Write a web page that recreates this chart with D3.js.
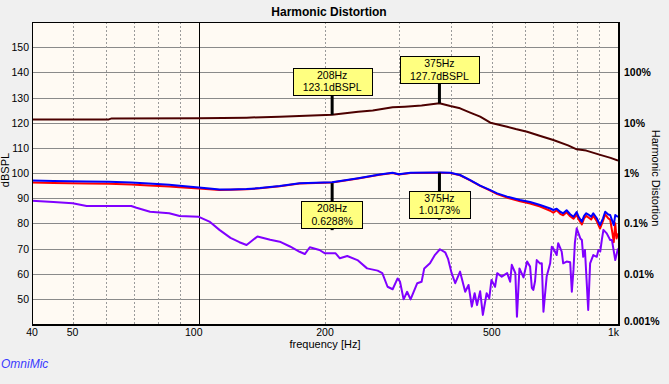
<!DOCTYPE html>
<html>
<head>
<meta charset="utf-8">
<script src="https://cdn.jsdelivr.net/npm/d3@7"></script>
<style>
    body { margin: 0; background: #f0f0f0; }
    svg { display: block; font-family: Arial, "Liberation Sans", sans-serif; }
</style>
</head>
<body>
<svg id="chart" width="669" height="384"></svg>
<script>
// [frequency Hz, dBSPL]
const fundamental = [
    [40, 121.3], [61, 121.3], [62, 121.7], [100, 121.8], [130, 122.0], [156, 122.4],
    [180, 122.7], [208, 123.1], [240, 124.3], [260, 124.8], [290, 126.1], [310, 126.35],
    [340, 126.8], [375, 127.7], [398, 126.6], [420, 125.7], [444, 124.0], [469, 122.4],
    [496, 120.0], [544, 118.4], [570, 117.5], [607, 116.4], [650, 114.8], [701, 113.1],
    [760, 111.0], [797, 109.4], [840, 108.9], [907, 107.2], [960, 106.0], [1000, 104.9],
]
const h2 = [
    [40, 96.2], [45, 96.0], [54, 95.8], [61, 95.7], [69, 95.4], [76, 95.0], [85, 94.6],
    [90, 94.3], [100, 93.8], [106, 93.5], [112, 93.2], [119, 93.3], [130, 93.5], [140, 93.9],
    [156, 94.7], [174, 95.8], [208, 96.2], [240, 97.8], [270, 99.3], [290, 100.0], [300, 99.4],
    [320, 100.0], [375, 100.05], [398, 100.0], [420, 99.1], [444, 97.1], [469, 94.9], [496, 93.0],
    [515, 91.6], [544, 90.2], [584, 88.8], [617, 87.9], [652, 86.7], [689, 85.0], [701, 84.2],
    [714, 85.2], [728, 83.8], [740, 83.2], [754, 84.4], [769, 82.8], [783, 81.8], [797, 83.5],
    [806, 81.5], [820, 79.6], [830, 82.0], [840, 83.0], [850, 82.3], [863, 81.5], [873, 83.0],
    [890, 80.8], [906, 77.9], [921, 81.0], [932, 83.6], [948, 82.0], [958, 81.5], [970, 76.0],
    [977, 72.5], [985, 80.0], [992, 74.0], [1000, 76.0],
]
const thd = [
    [40, 97.0], [45, 96.8], [54, 96.6], [61, 96.5], [69, 96.2], [76, 95.8], [85, 95.3],
    [90, 94.9], [100, 94.2], [106, 93.8], [112, 93.4], [119, 93.4], [130, 93.6], [140, 94.0],
    [156, 94.8], [174, 95.9], [208, 96.3], [240, 97.9], [270, 99.4], [290, 100.1], [300, 99.5],
    [320, 100.1], [375, 100.15], [398, 100.1], [420, 99.2], [444, 97.2], [469, 95.0], [496, 93.2],
    [515, 91.9], [544, 90.6], [584, 89.3], [617, 88.5], [652, 87.3], [689, 85.9], [701, 85.3],
    [714, 85.8], [728, 84.6], [740, 84.0], [754, 85.2], [769, 83.6], [783, 82.6], [797, 84.5],
    [806, 82.5], [820, 80.7], [830, 83.0], [840, 84.0], [850, 83.5], [863, 82.6], [873, 84.0],
    [890, 82.0], [906, 79.3], [921, 82.0], [932, 84.6], [948, 83.5], [958, 83.3], [977, 79.3],
    [985, 83.3], [1000, 82.5],
]
const h3 = [
    [40, 89.0], [45, 88.5], [50, 88.0], [54, 86.9], [61, 86.9], [69, 86.9], [71, 86.2],
    [76.5, 84.6], [85, 84.0], [90, 82.9], [100, 82.6], [106, 80.7], [112, 77.4], [119, 74.2],
    [125, 72.5], [130, 71.4], [138, 74.8], [148, 73.5], [156, 72.7], [165, 70.8], [174, 68.7],
    [179, 67.8], [184, 70.5], [194, 69.4], [200, 68.1], [212, 68.1], [217, 66.1], [226, 67.0],
    [239, 65.4], [252, 62.1], [267, 61.2], [274, 60.2], [282, 54.8], [290, 53.8], [298, 58.1],
    [302, 56.8], [308, 49.8], [314, 52.8], [320, 49.8], [332, 56.2], [340, 56.8], [345, 62.1],
    [356, 64.1], [366, 67.5], [376, 69.7], [387, 68.5], [393, 66.0], [401, 60.2], [409, 56.2],
    [420, 60.8], [432, 52.8], [440, 55.5], [448, 46.9], [455, 52.2], [461, 47.5], [469, 53.0],
    [476, 43.6], [486, 52.2], [493, 50.2], [499, 57.5], [509, 54.8], [515, 60.2], [528, 58.8],
    [544, 60.2], [553, 56.8], [558, 63.5], [569, 60.2], [574, 42.9], [582, 62.1], [595, 58.5],
    [607, 64.8], [617, 62.8], [623, 54.3], [628, 53.5], [634, 57.0], [640, 65.4], [652, 64.0],
    [658, 64.1], [664, 44.9], [676, 59.0], [689, 64.1], [695, 70.7], [701, 70.0], [714, 67.4],
    [720, 72.1], [734, 68.8], [740, 64.1], [754, 64.8], [769, 64.5], [776, 52.8], [783, 61.5],
    [789, 72.1], [797, 78.0], [813, 74.0], [820, 73.4], [826, 66.7], [834, 69.4], [849, 45.6],
    [858, 64.1], [873, 67.4], [890, 66.7], [898, 69.4], [907, 68.8], [915, 73.4], [923, 77.4],
    [940, 76.0], [958, 73.4], [967, 73.4], [985, 65.4], [1000, 70.0],
]

const freqLabels = [40, 50, 100, 200, 500, 1000]
const pctLabels = [0.001, 0.01, 0.1, 1, 10, 100]

// cursor readouts: dB ones on the fundamental, % ones on THD
const markers = [
    { freq: 208, db: 123.1, text: ["208Hz", "123.1dBSPL"], above: true },
    { freq: 375, db: 127.7, text: ["375Hz", "127.7dBSPL"], above: true },
    { freq: 208, pct: 0.6288, text: ["208Hz", "0.6288%"], above: false },
    { freq: 375, pct: 1.0173, text: ["375Hz", "1.0173%"], above: false },
]

const svg = d3.select("#chart")
const pLeft = 32, pRight = 618, pTop = 22, pBottom = 324

const x = d3.scaleLog().domain([40, 1000]).range([pLeft, pRight])
const y = d3.scaleLinear().domain([40, 160]).range([pBottom, pTop])
const pct = d3.scaleLog().domain([0.001, 1000]).range([pBottom, pTop])

svg.append("rect")
    .attr("x", pLeft).attr("y", pTop)
    .attr("width", pRight - pLeft).attr("height", pBottom - pTop)
    .attr("fill", "#fffaf3")

svg.append("clipPath").attr("id", "plot")
    .append("rect")
    .attr("x", pLeft).attr("y", pTop)
    .attr("width", pRight - pLeft).attr("height", pBottom - pTop)

// grid
const grid = svg.append("g").attr("shape-rendering", "crispEdges")
grid.selectAll(".hg")
    .data(y.ticks(12).filter((d) => d > 40 && d < 160))
    .join("line")
    .attr("x1", pLeft).attr("x2", pRight)
    .attr("y1", (d) => Math.round(y(d)) + 0.5).attr("y2", (d) => Math.round(y(d)) + 0.5)
    .attr("stroke", "#8a8a8a")
grid.selectAll(".vg")
    .data(x.ticks().filter((d) => d > 40 && d < 1000 && d != 100))
    .join("line")
    .attr("x1", (d) => Math.round(x(d)) + 0.5).attr("x2", (d) => Math.round(x(d)) + 0.5)
    .attr("y1", pTop).attr("y2", pBottom)
    .attr("stroke", "#9a9a9a")
    .attr("stroke-dasharray", "2,2")
grid.append("line")
    .attr("x1", Math.round(x(100)) + 0.5).attr("x2", Math.round(x(100)) + 0.5)
    .attr("y1", pTop).attr("y2", pBottom)
    .attr("stroke", "#000")

// curves
const line = d3.line()
    .x((d) => x(d[0]))
    .y((d) => y(d[1]))
const curves = svg.append("g").attr("clip-path", "url(#plot)")
    .attr("fill", "none").attr("stroke-width", 2).attr("stroke-linejoin", "round")
curves.append("path").datum(fundamental).attr("d", line).attr("stroke", "#4d0000")
curves.append("path").datum(h2).attr("d", line).attr("stroke", "#ff0000")
curves.append("path").datum(thd).attr("d", line).attr("stroke", "#0000ff")
curves.append("path").datum(h3).attr("d", line).attr("stroke", "#8000ff")

// frame
const frame = svg.append("g").attr("shape-rendering", "crispEdges")
frame.append("rect")
    .attr("x", pLeft + 0.5).attr("y", pTop + 0.5)
    .attr("width", pRight - pLeft).attr("height", pBottom - pTop)
    .attr("fill", "none").attr("stroke", "#000")
frame.append("line")
    .attr("x1", pRight + 1).attr("x2", pRight + 1).attr("y1", pTop).attr("y2", pBottom + 2)
    .attr("stroke", "#000").attr("stroke-width", 2)
frame.append("line")
    .attr("x1", pLeft).attr("x2", pRight + 2).attr("y1", pBottom + 1).attr("y2", pBottom + 1)
    .attr("stroke", "#000").attr("stroke-width", 2)

// markers
markers.forEach((m) => {
    const cx = x(m.freq)
    const cy = m.pct ? pct(m.pct) : y(m.db)
    const g = svg.append("g")
    const stem = g.append("line")
        .attr("x1", cx).attr("x2", cx).attr("y1", cy)
        .attr("stroke", "#000").attr("stroke-width", 3)
    const box = g.append("rect").attr("fill", "#ffff80").attr("stroke", "#000")
        .attr("shape-rendering", "crispEdges")
    const texts = g.selectAll("text").data(m.text).join("text")
        .attr("x", cx)
        .attr("text-anchor", "middle")
        .attr("font-size", "10.5px")
        .attr("fill", "#000")
        .text((d) => d)
    const w = d3.max(texts.nodes(), (n) => n.getComputedTextLength()) + 20
    const h = 27
    const boxTop = m.above ? cy - 20 - h : cy + 18
    stem.attr("y2", m.above ? boxTop + h : boxTop + h + 2)
    box.attr("x", Math.round(cx - w / 2) + 0.5).attr("y", Math.round(boxTop) + 0.5)
        .attr("width", Math.round(w)).attr("height", h)
    texts.attr("y", (d, i) => boxTop + 11 + i * 12.5)
})

// axes labels
const tickFont = "10.5px"
svg.append("g").selectAll("text")
    .data(y.ticks(12).filter((d) => d > 40 && d < 160))
    .join("text")
    .attr("x", 29).attr("y", (d) => y(d) + 4)
    .attr("text-anchor", "end").attr("font-size", tickFont)
    .text((d) => d)

svg.append("g").selectAll("text")
    .data(pctLabels)
    .join("text")
    .attr("x", 624).attr("y", (d) => Math.min(pct(d) + 4, pBottom + 1))
    .attr("font-size", tickFont).attr("font-weight", "bold")
    .text((d) => d + "%")

svg.append("g").selectAll("text")
    .data(freqLabels)
    .join("text")
    .attr("x", (d) => (d == 100 ? x(d) - 5 : d == 1000 ? pRight + 1 : x(d)))
    .attr("y", 336)
    .attr("text-anchor", (d) => (d == 1000 ? "end" : "middle"))
    .attr("font-size", tickFont)
    .text((d) => (d == 1000 ? "1k" : d))

svg.append("text")
    .attr("x", 329).attr("y", 16)
    .attr("text-anchor", "middle")
    .attr("font-size", "12px").attr("font-weight", "bold")
    .text("Harmonic Distortion")

svg.append("text")
    .attr("x", 325).attr("y", 348)
    .attr("text-anchor", "middle").attr("font-size", "11px")
    .text("frequency [Hz]")

svg.append("text")
    .attr("transform", "translate(9,170) rotate(-90)")
    .attr("text-anchor", "middle").attr("font-size", "11px")
    .text("dBSPL")

svg.append("text")
    .attr("transform", "translate(652,178) rotate(90)")
    .attr("text-anchor", "middle").attr("font-size", "11px")
    .text("Harmonic Distortion")

svg.append("text")
    .attr("x", 1).attr("y", 368)
    .attr("font-size", "12px").attr("font-style", "italic")
    .attr("fill", "#3a3aff")
    .text("OmniMic")
</script>
</body>
</html>
